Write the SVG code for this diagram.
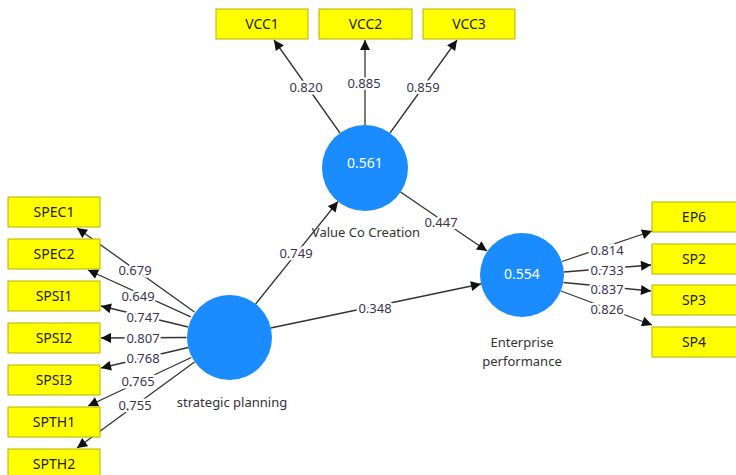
<svg xmlns="http://www.w3.org/2000/svg" width="736" height="475" viewBox="0 0 736 475">
<defs>
<marker id="arr" viewBox="0 0 10 10" refX="10" refY="5" markerWidth="11" markerHeight="10" markerUnits="userSpaceOnUse" orient="auto">
<path d="M0,0 L10,5 L0,10 z" fill="#111"/>
</marker>
<style>
.box{fill:#ffff00;stroke:#b3b300;stroke-width:1}
.bt{font-family:"Noto Sans","Open Sans",sans-serif;font-size:14px;fill:#222;text-anchor:middle}
.lv{fill:#1a8cff}
.lvt{font-family:"Noto Sans","Open Sans",sans-serif;font-size:14px;fill:#fff;text-anchor:middle}
.nm{font-family:"Noto Sans","Open Sans",sans-serif;font-size:13px;fill:#333;text-anchor:middle}
.ln{stroke:#333;stroke-width:1.3;fill:none;marker-end:url(#arr)}
.lb{font-family:"Noto Sans","Open Sans",sans-serif;font-size:13px;fill:#3a3350;text-anchor:middle;stroke:#fff;stroke-width:5;paint-order:stroke;stroke-linejoin:round}
</style>
</defs>
<rect width="736" height="475" fill="#fff"/>

<g id="connectors">
<line class="ln" x1="194.5" y1="312" x2="77" y2="228"/>
<line class="ln" x1="190.7" y1="316.8" x2="88" y2="270"/>
<line class="ln" x1="188.3" y1="327" x2="101" y2="306"/>
<line class="ln" x1="186.5" y1="337.5" x2="101" y2="338"/>
<line class="ln" x1="188.3" y1="347.5" x2="101" y2="368"/>
<line class="ln" x1="191.3" y1="357.5" x2="88" y2="406"/>
<line class="ln" x1="194.5" y1="362" x2="77" y2="448"/>
<line class="ln" x1="340" y1="133" x2="274" y2="40"/>
<line class="ln" x1="365" y1="125" x2="365" y2="40"/>
<line class="ln" x1="390" y1="133" x2="457" y2="40"/>
<line class="ln" x1="400.5" y1="192" x2="487" y2="251"/>
<line class="ln" x1="255.6" y1="304" x2="338" y2="201.5"/>
<line class="ln" x1="270.6" y1="328" x2="481" y2="284"/>
<line class="ln" x1="562" y1="261.5" x2="652" y2="231"/>
<line class="ln" x1="564" y1="272" x2="651" y2="265"/>
<line class="ln" x1="563.5" y1="282.5" x2="651" y2="291"/>
<line class="ln" x1="561" y1="291" x2="652" y2="325"/>
<text class="lb" x="135" y="274.5">0.679</text>
<text class="lb" x="138" y="300.5">0.649</text>
<text class="lb" x="143" y="321.5">0.747</text>
<text class="lb" x="143" y="342.5">0.807</text>
<text class="lb" x="143" y="362.5">0.768</text>
<text class="lb" x="138" y="385.5">0.765</text>
<text class="lb" x="135" y="409.5">0.755</text>
<text class="lb" x="306" y="91.5">0.820</text>
<text class="lb" x="364" y="87.5">0.885</text>
<text class="lb" x="423" y="91.5">0.859</text>
<text class="lb" x="441" y="226.5">0.447</text>
<text class="lb" x="296" y="257.5">0.749</text>
<text class="lb" x="375" y="312.5">0.348</text>
<text class="lb" x="607" y="254.5">0.814</text>
<text class="lb" x="607" y="274.5">0.733</text>
<text class="lb" x="607" y="293.5">0.837</text>
<text class="lb" x="607" y="313.5">0.826</text>
</g>

<g id="SPEC1"><rect class="box" x="8" y="197" width="92" height="30"/><text class="bt" x="54" y="217">SPEC1</text></g>
<g id="SPEC2"><rect class="box" x="8" y="239" width="92" height="30"/><text class="bt" x="54" y="259">SPEC2</text></g>
<g id="SPSI1"><rect class="box" x="8" y="281" width="92" height="30"/><text class="bt" x="54" y="301">SPSI1</text></g>
<g id="SPSI2"><rect class="box" x="8" y="323" width="92" height="30"/><text class="bt" x="54" y="343">SPSI2</text></g>
<g id="SPSI3"><rect class="box" x="8" y="365" width="92" height="30"/><text class="bt" x="54" y="385">SPSI3</text></g>
<g id="SPTH1"><rect class="box" x="8" y="407" width="92" height="30"/><text class="bt" x="54" y="427">SPTH1</text></g>
<g id="SPTH2"><rect class="box" x="8" y="449" width="92" height="30"/><text class="bt" x="54" y="469">SPTH2</text></g>

<g id="VCC1"><rect class="box" x="216" y="9" width="92" height="30"/><text class="bt" x="262" y="29">VCC1</text></g>
<g id="VCC2"><rect class="box" x="319" y="9" width="93" height="30"/><text class="bt" x="365.5" y="29">VCC2</text></g>
<g id="VCC3"><rect class="box" x="423" y="9" width="92" height="30"/><text class="bt" x="469" y="29">VCC3</text></g>

<g id="EP6"><rect class="box" x="652" y="202" width="92" height="30"/><text class="bt" x="694" y="222">EP6</text></g>
<g id="SP2"><rect class="box" x="652" y="244" width="92" height="30"/><text class="bt" x="694" y="264">SP2</text></g>
<g id="SP3"><rect class="box" x="652" y="285" width="92" height="30"/><text class="bt" x="694" y="305">SP3</text></g>
<g id="SP4"><rect class="box" x="652" y="327" width="92" height="30"/><text class="bt" x="694" y="347">SP4</text></g>

<g id="strategic-planning">
<circle class="lv" cx="229.5" cy="337.5" r="42.5"/>
<text class="nm" x="232" y="407">strategic planning</text>
</g>
<g id="value-co-creation">
<circle class="lv" cx="365" cy="168" r="43"/>
<text class="lvt" x="365" y="168">0.561</text>
<text class="nm" x="366" y="237">Value Co Creation</text>
</g>
<g id="enterprise-performance">
<circle class="lv" cx="522" cy="275" r="42"/>
<text class="lvt" x="522" y="279">0.554</text>
<text class="nm" x="522" y="347">Enterprise</text>
<text class="nm" x="522" y="366">performance</text>
</g>
</svg>
